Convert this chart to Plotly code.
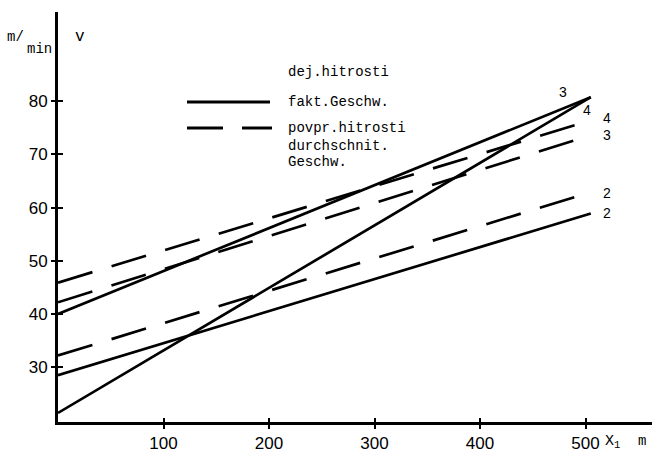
import plotly.graph_objects as go

# ---- data ----
x_pts = [0, 505]
fakt_2 = [28.5, 58.9]
fakt_3 = [40.0, 80.75]
fakt_4 = [21.4, 80.75]
avg_2 = [32.2, 62.9]
avg_3 = [42.2, 73.6]
avg_4 = [45.9, 76.4]

x_ticks = [100, 200, 300, 400, 500]
y_ticks = [30, 40, 50, 60, 70, 80]

# ---- geometry helpers (pixel -> paper) ----
W, H = 659, 456
L, R, T, B = 58, 7, 12, 34
PW, PH = W - L - R, H - T - B
XMAX = PW / 1.055
YMIN, YMAX = 19.7, 19.7 + PH / 5.32


def ppx(xp):
    return (xp - L) / PW


def ppy(yp):
    return (H - B - yp) / PH


LW = 2.7
solid = dict(color="black", width=LW)
dashed = dict(color="black", width=LW, dash="36px,20px")

fig = go.Figure()
for ys in (fakt_2, fakt_3, fakt_4):
    fig.add_trace(go.Scatter(x=x_pts, y=ys, mode="lines", line=solid,
                             showlegend=False, hoverinfo="skip"))
for ys in (avg_2, avg_3, avg_4):
    fig.add_trace(go.Scatter(x=x_pts, y=ys, mode="lines", line=dashed,
                             showlegend=False, hoverinfo="skip"))

# invisible trace on overlay axes to get inner half of crossing ticks
fig.add_trace(go.Scatter(x=[0], y=[30], xaxis="x2", yaxis="y2", mode="markers",
                         marker=dict(opacity=0), showlegend=False, hoverinfo="skip"))

tickfont = dict(family="Liberation Sans, Arial, sans-serif", size=17, color="black")
mono = "Liberation Mono, Courier New, monospace"
sans = "Liberation Sans, Arial, sans-serif"

fig.update_layout(
    width=W, height=H,
    margin=dict(l=L, r=R, t=T, b=B, autoexpand=False),
    paper_bgcolor="white", plot_bgcolor="white",
    xaxis=dict(range=[0, XMAX], showgrid=False, zeroline=False, automargin=False,
               showline=True, linecolor="black", linewidth=3,
               tickvals=x_ticks, ticks="outside", ticklen=4, tickwidth=1.5,
               tickcolor="black", tickfont=tickfont),
    yaxis=dict(range=[YMIN, YMAX], showgrid=False, zeroline=False, automargin=False,
               showline=True, linecolor="black", linewidth=3,
               tickvals=y_ticks, ticks="outside", ticklen=4, tickwidth=1.5,
               tickcolor="black", tickfont=tickfont),
    xaxis2=dict(overlaying="x", matches="x", range=[0, XMAX], showgrid=False,
                zeroline=False, showline=False, tickvals=x_ticks, ticks="inside",
                ticklen=4, tickwidth=1.5, tickcolor="black", showticklabels=False,
                automargin=False),
    yaxis2=dict(overlaying="y", matches="y", range=[YMIN, YMAX], showgrid=False,
                zeroline=False, showline=False, tickvals=y_ticks, ticks="inside",
                ticklen=5, tickwidth=1.5, tickcolor="black", showticklabels=False,
                automargin=False),
)

# legend samples (shapes)
for x0, x1, yp in [(187, 270, 102), (187, 223, 128), (242, 272, 128)]:
    fig.add_shape(type="line", xref="paper", yref="paper", x0=ppx(x0), x1=ppx(x1),
                  y0=ppy(yp), y1=ppy(yp), line=dict(color="black", width=3))


def ann(text, xp, yp, size=14, family=mono, xanchor="left"):
    fig.add_annotation(x=ppx(xp), y=ppy(yp), xref="paper", yref="paper", text=text,
                       showarrow=False, xanchor=xanchor, yanchor="middle",
                       font=dict(family=family, size=size, color="black"))


ann("dej.hitrosti", 286, 72)
ann("fakt.Geschw.", 286, 102)
ann("povpr.hitrosti", 286, 128)
ann("durchschnit.", 286, 146)
ann("Geschw.", 286, 162)

for txt, xp, yp in [("3", 563, 92), ("4", 587, 110), ("4", 607, 118),
                    ("3", 607, 135), ("2", 607, 193), ("2", 607, 213)]:
    ann(txt, xp, yp, size=14, family=sans, xanchor="center")

# axis unit labels
ann("m/", 5, 37, size=14)
ann("min", 25, 49, size=14)
ann("v", 73, 37, size=16)
ann("X<sub>1</sub>", 603, 442, size=15)
ann("m", 636, 441, size=14)

fig.write_html("out.html", config={"displayModeBar": False},
               post_script="document.body.style.margin='0';")
